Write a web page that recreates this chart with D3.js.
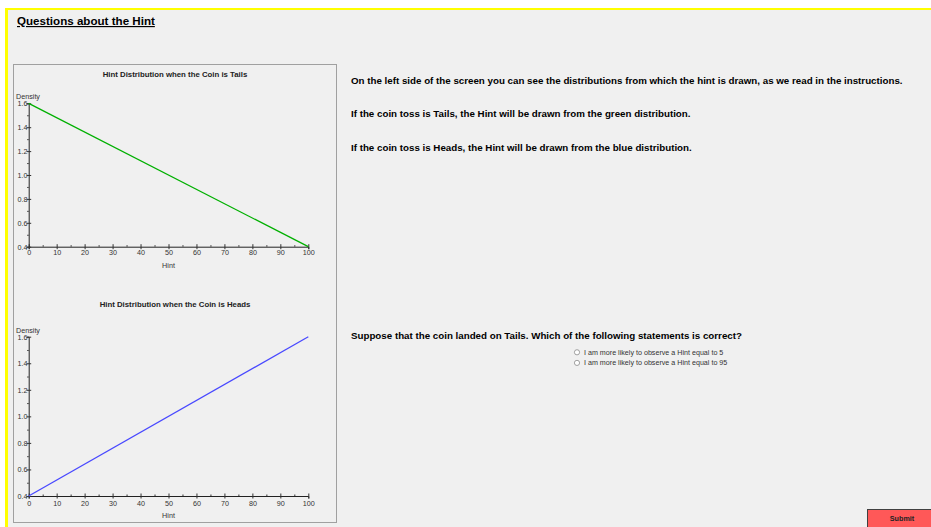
<!DOCTYPE html>
<html lang="en">
<head>
<meta charset="UTF-8" />
<title>Questions about the Hint</title>
<script src="https://cdn.jsdelivr.net/npm/d3@7/dist/d3.min.js"></script>
<style>
  body { margin: 0; background: #fff; overflow: hidden; }
  svg { display: block; font-family: "Liberation Sans", Arial, sans-serif; }
</style>
</head>
<body>
<svg id="svg" width="931" height="527"></svg>
<script>
// data
const hint = [0, 100]
const tailsDensity = [1.6, 0.4]
const headsDensity = [0.4, 1.6]
const xMajor = [0, 10, 20, 30, 40, 50, 60, 70, 80, 90, 100]
const xMinor = [5, 15, 25, 35, 45, 55, 65, 75, 85, 95]
const yMajor = [0.4, 0.6, 0.8, 1.0, 1.2, 1.4, 1.6]
const yMinor = [0.5, 0.7, 0.9, 1.1, 1.3, 1.5]
const rightText = [
  'On the left side of the screen you can see the distributions from which the hint is drawn, as we read in the instructions.',
  'If the coin toss is Tails, the Hint will be drawn from the green distribution.',
  'If the coin toss is Heads, the Hint will be drawn from the blue distribution.'
]
const question = 'Suppose that the coin landed on Tails. Which of the following statements is correct?'
const options = ['I am more likely to observe a Hint equal to 5', 'I am more likely to observe a Hint equal to 95']

const svg = d3.select('#svg')

// page background + yellow frame
svg.append('rect').attr('x', 5).attr('y', 8).attr('width', 926).attr('height', 519).attr('fill', '#ffff00')
svg.append('rect').attr('x', 8).attr('y', 10).attr('width', 923).attr('height', 517).attr('fill', '#f0f0f0')

svg.append('text')
  .attr('x', 17).attr('y', 25)
  .attr('font-size', 11.6).attr('font-weight', 'bold')
  .attr('text-decoration', 'underline')
  .attr('fill', '#000')
  .text('Questions about the Hint')

// chart panel
svg.append('rect').attr('x', 13.5).attr('y', 64.5).attr('width', 323).attr('height', 458)
  .attr('fill', 'none').attr('stroke', '#a0a0a0')

function drawChart(top, bottom, title, values, color, titleY, densityY, xLabY, hintY) {
  const x = d3.scaleLinear().domain([0, 100]).range([28.7, 308.3])
  const y = d3.scaleLinear().domain([0.4, 1.6]).range([bottom, top])
  const g = svg.append('g')

  g.append('text').attr('x', 175).attr('y', titleY)
    .attr('text-anchor', 'middle').attr('font-size', 7.8).attr('font-weight', 'bold')
    .attr('fill', '#222').text(title)
  g.append('text').attr('x', 16).attr('y', densityY)
    .attr('font-size', 7.2).attr('fill', '#333').text('Density')
  g.append('text').attr('x', (x(0) + x(100)) / 2).attr('y', hintY)
    .attr('text-anchor', 'middle').attr('font-size', 7.2).attr('fill', '#333').text('Hint')

  // x axis
  const xa = g.append('g').attr('transform', `translate(0,${bottom})`)
    .call(d3.axisBottom(x).tickValues(xMajor).tickSize(2.5).tickFormat(d3.format('d')))
  xa.selectAll('line').attr('y1', -2.5)
  xa.selectAll('text').attr('y', xLabY - bottom).attr('dy', 0).attr('font-size', 7.2).attr('fill', '#333')
  g.append('g').attr('transform', `translate(0,${bottom})`)
    .call(d3.axisBottom(x).tickValues(xMinor).tickSize(-1.5).tickFormat(''))
    .select('.domain').remove()

  // y axis
  const ya = g.append('g').attr('transform', `translate(${x(0)},0)`)
    .call(d3.axisLeft(y).tickValues(yMajor).tickSize(2).tickFormat(d3.format('.1f')))
  ya.selectAll('line').attr('x1', 2.5)
  ya.selectAll('text').attr('x', -1.3).attr('dy', '0.35em').attr('font-size', 7.2).attr('fill', '#333')
  g.append('g').attr('transform', `translate(${x(0)},0)`)
    .call(d3.axisLeft(y).tickValues(yMinor).tickSize(1.5).tickFormat(''))
    .select('.domain').remove()

  g.selectAll('.domain').attr('stroke', '#222')
  g.selectAll('.tick line').attr('stroke', '#333')

  const line = d3.line().x((d, i) => x(hint[i])).y(d => y(d))
  g.append('path').datum(values)
    .attr('d', line).attr('fill', 'none')
    .attr('stroke', color).attr('stroke-width', 1.3)
}

drawChart(103.3, 246.7, 'Hint Distribution when the Coin is Tails', tailsDensity, '#00b000', 76.5, 98.5, 255.5, 267.5)
drawChart(336.7, 496, 'Hint Distribution when the Coin is Heads', headsDensity, '#4848ff', 306.5, 332.5, 506, 517.5)

// right side text
svg.selectAll('.info').data(rightText).enter().append('text')
  .attr('class', 'info')
  .attr('x', 351).attr('y', (d, i) => [83.5, 116.8, 150.8][i])
  .attr('font-size', 9.75).attr('font-weight', 'bold').attr('fill', '#000')
  .text(d => d)

svg.append('text').attr('x', 351).attr('y', 338.7)
  .attr('font-size', 9.75).attr('font-weight', 'bold').attr('fill', '#000')
  .text(question)

const opt = svg.selectAll('.opt').data(options).enter().append('g')
  .attr('transform', (d, i) => `translate(0,${352.3 + i * 10.6})`)
opt.append('circle').attr('cx', 577).attr('cy', 0).attr('r', 2.6)
  .attr('fill', '#fff').attr('stroke', '#8a8a8a').attr('stroke-width', 0.8)
opt.append('text').attr('x', 584).attr('y', 2.5)
  .attr('font-size', 7.15).attr('fill', '#333').text(d => d)

// submit button
svg.append('rect').attr('x', 867.5).attr('y', 509.5).attr('width', 70).attr('height', 20)
  .attr('fill', '#ff5858').attr('stroke', '#404040')
svg.append('text').attr('x', 902).attr('y', 520.5)
  .attr('text-anchor', 'middle').attr('font-size', 7.2).attr('font-weight', 'bold')
  .attr('fill', '#222').text('Submit')
</script>
</body>
</html>
